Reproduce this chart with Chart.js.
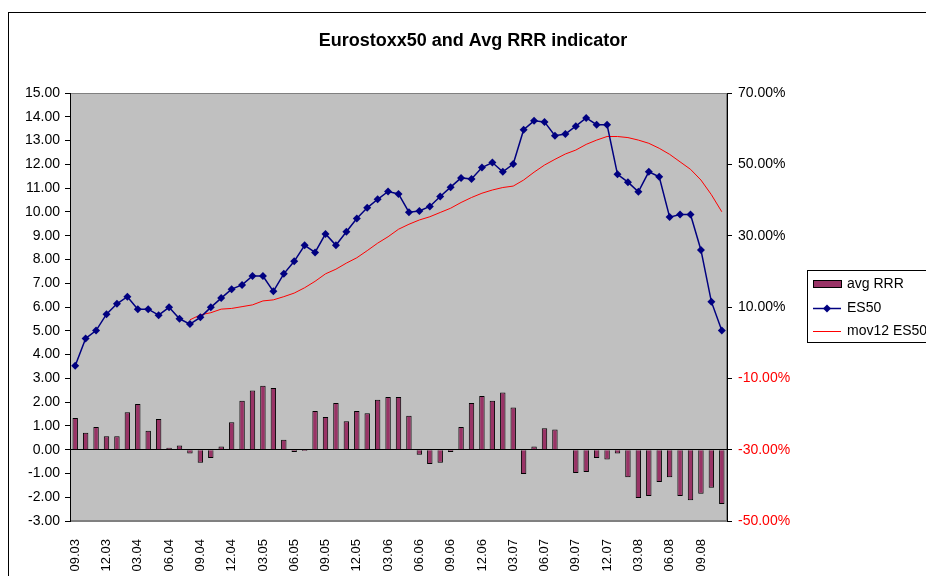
<!DOCTYPE html>
<html>
<head>
<meta charset="utf-8">
<script src="https://cdn.jsdelivr.net/npm/chart.js@4.4.1/dist/chart.umd.min.js"></script>
<style>
    body { margin: 0; background: #fff; }
    #chart { position: absolute; left: 0; top: 0; }
</style>
</head>
<body>
<canvas id="chart" width="926" height="576"></canvas>
<script>
// months 09.03 .. 11.08
const months = [
    "09.03", "10.03", "11.03", "12.03",
    "01.04", "02.04", "03.04", "04.04", "05.04", "06.04", "07.04", "08.04", "09.04", "10.04", "11.04", "12.04",
    "01.05", "02.05", "03.05", "04.05", "05.05", "06.05", "07.05", "08.05", "09.05", "10.05", "11.05", "12.05",
    "01.06", "02.06", "03.06", "04.06", "05.06", "06.06", "07.06", "08.06", "09.06", "10.06", "11.06", "12.06",
    "01.07", "02.07", "03.07", "04.07", "05.07", "06.07", "07.07", "08.07", "09.07", "10.07", "11.07", "12.07",
    "01.08", "02.08", "03.08", "04.08", "05.08", "06.08", "07.08", "08.08", "09.08", "10.08", "11.08"
];

// left axis
const avgRRR = [
    1.33, 0.71, 0.95, 0.56, 0.56, 1.57, 1.92, 0.80, 1.29, 0.08,
    0.18, -0.16, -0.55, -0.35, 0.13, 1.15, 2.06, 2.49, 2.69, 2.59,
    0.42, -0.10, -0.06, 1.63, 1.37, 1.96, 1.19, 1.63, 1.53, 2.10,
    2.21, 2.21, 1.43, -0.21, -0.60, -0.55, -0.10, 0.95, 1.96, 2.26,
    2.06, 2.40, 1.77, -1.02, 0.13, 0.90, 0.85, 0, -0.98, -0.94,
    -0.35, -0.41, -0.16, -1.16, -2.03, -1.95, -1.36, -1.16, -1.95, -2.13,
    -1.85, -1.60, -2.28
];

// right axis (%)
const es50 = [
    -6.5, 1.2, 3.4, 8.0, 10.9, 12.9, 9.4, 9.4, 7.7, 9.9,
    6.7, 5.2, 7.1, 9.9, 12.5, 15.0, 16.2, 18.7, 18.7, 14.4,
    19.3, 22.8, 27.3, 25.3, 30.5, 27.3, 31.1, 34.8, 37.8, 40.2,
    42.4, 41.7, 36.6, 36.9, 38.2, 41.0, 43.6, 46.2, 45.9, 49.1,
    50.5, 47.9, 50.1, 59.7, 62.2, 61.9, 58.0, 58.5, 60.7, 63.0,
    61.1, 61.1, 47.2, 45.0, 42.3, 47.9, 46.5, 35.2, 35.9, 35.9,
    26.0, 11.5, 3.4
];

const mov12 = [
    null, null, null, null, null, null, null, null, null, null, null,
    6.4, 7.8, 8.4, 9.4, 9.6, 10.1, 10.6, 11.7, 12.0, 12.9, 13.9,
    15.4, 17.2, 19.3, 20.6, 22.3, 23.8, 25.8, 27.9, 29.7,
    31.8, 33.2, 34.4, 35.3, 36.5, 37.7, 39.3, 40.7, 41.9, 42.8,
    43.5, 43.9, 45.6, 47.8, 49.8, 51.4, 52.9, 54.0, 55.6, 56.8,
    57.8, 57.8, 57.5, 56.8, 55.9, 54.5, 52.8, 50.7, 48.6, 45.6,
    41.5, 36.7
];

const leftTicks = { min: -3, max: 15, step: 1 };
const rightTicks = { min: -50, max: 70, step: 20 };

const FONT = "'Liberation Sans', Arial, sans-serif";

// background, title, frame and legend
const decor = {
    id: "decor",
    beforeDraw(chart) {
        const c = chart.ctx;
        const a = chart.chartArea;
        c.save();
        c.fillStyle = "#fff";
        c.fillRect(0, 0, chart.width, chart.height);
        c.fillStyle = "#c0c0c0";
        c.fillRect(a.left, a.top, a.right - a.left, a.bottom - a.top);
        c.strokeStyle = "#808080";
        c.lineWidth = 1;
        c.strokeRect(a.left + 0.5, a.top + 0.5, a.right - a.left - 1, a.bottom - a.top - 1);
        c.restore();
    },
    afterDraw(chart) {
        const c = chart.ctx;
        c.save();
        // outer frame
        c.strokeStyle = "#000";
        c.lineWidth = 1;
        c.strokeRect(8.5, 12.5, 1000, 1000);

        // title
        c.fillStyle = "#000";
        c.font = "bold 18px " + FONT;
        c.textAlign = "center";
        c.textBaseline = "middle";
        c.fillText("Eurostoxx50 and Avg RRR indicator", 473, 41);

        // legend
        c.fillStyle = "#fff";
        c.fillRect(807, 270, 200, 72);
        c.strokeStyle = "#000";
        c.strokeRect(807.5, 270.5, 200, 72);

        c.fillStyle = "#993366";
        c.fillRect(813, 280, 28, 7);
        c.strokeRect(813.5, 280.5, 28, 7);

        c.strokeStyle = "#000080";
        c.lineWidth = 1.5;
        c.beginPath();
        c.moveTo(813, 308.5);
        c.lineTo(841, 308.5);
        c.stroke();
        c.fillStyle = "#000080";
        c.beginPath();
        c.moveTo(827, 304.5);
        c.lineTo(831, 308.5);
        c.lineTo(827, 312.5);
        c.lineTo(823, 308.5);
        c.closePath();
        c.fill();

        c.strokeStyle = "#ff0000";
        c.lineWidth = 1;
        c.beginPath();
        c.moveTo(813, 331.5);
        c.lineTo(841, 331.5);
        c.stroke();

        c.fillStyle = "#000";
        c.font = "14px " + FONT;
        c.textAlign = "left";
        c.textBaseline = "middle";
        c.fillText("avg RRR", 847, 284);
        c.fillText("ES50", 847, 308);
        c.fillText("mov12 ES50", 847, 331);
        c.restore();
    }
};

const chart = new Chart(document.getElementById("chart"), {
    data: {
        labels: months,
        datasets: [
            {
                type: "line",
                label: "ES50",
                data: es50,
                yAxisID: "y2",
                borderColor: "#000080",
                backgroundColor: "#000080",
                borderWidth: 1.5,
                pointStyle: "rectRot",
                pointRadius: 4,
                pointBorderWidth: 0,
                tension: 0,
                order: 1
            },
            {
                type: "line",
                label: "mov12 ES50",
                data: mov12,
                yAxisID: "y2",
                borderColor: "#ff0000",
                borderWidth: 1,
                pointRadius: 0,
                tension: 0,
                order: 2
            },
            {
                type: "bar",
                label: "avg RRR",
                data: avgRRR,
                yAxisID: "y",
                backgroundColor: "#993366",
                borderColor: "#000",
                borderWidth: 1,
                barPercentage: 0.52,
                categoryPercentage: 1,
                order: 3
            }
        ]
    },
    options: {
        responsive: false,
        animation: false,
        layout: { padding: { top: 93, left: 0, right: 0, bottom: 0 } },
        plugins: {
            legend: { display: false },
            title: { display: false },
            tooltip: { enabled: false }
        },
        scales: {
            x: {
                offset: true,
                grid: { display: false },
                border: { color: "#808080" },
                afterFit(s) { s.height = 55; },
                ticks: {
                    autoSkip: false,
                    minRotation: 90,
                    maxRotation: 90,
                    padding: 10,
                    color: "#000",
                    font: { family: FONT, size: 13 },
                    callback(v, i) { return i % 3 === 0 ? months[i] : ""; }
                }
            },
            y: {
                position: "left",
                min: leftTicks.min,
                max: leftTicks.max,
                afterFit(s) { s.width = 70; },
                border: { color: "#000", width: 1 },
                grid: {
                    drawOnChartArea: true,
                    color: (ctx) => (ctx.tick && ctx.tick.value === 0 ? "#000" : "rgba(0,0,0,0)"),
                    tickColor: "#000",
                    tickLength: 5
                },
                ticks: {
                    stepSize: leftTicks.step,
                    padding: 5,
                    color: "#000",
                    font: { family: FONT, size: 14 },
                    callback: (v) => v.toFixed(2)
                }
            },
            y2: {
                position: "right",
                min: rightTicks.min,
                max: rightTicks.max,
                afterFit(s) { s.width = 926 - 727; },
                border: { color: "#000", width: 1 },
                grid: {
                    drawOnChartArea: false,
                    color: "#000",
                    tickColor: "#000",
                    tickLength: 5
                },
                ticks: {
                    stepSize: rightTicks.step,
                    padding: 6,
                    color: (ctx) => (ctx.tick && ctx.tick.value < 0 ? "#ff0000" : "#000"),
                    font: { family: FONT, size: 14 },
                    callback: (v) => v.toFixed(2) + "%"
                }
            }
        }
    },
    plugins: [decor]
});
</script>
</body>
</html>
